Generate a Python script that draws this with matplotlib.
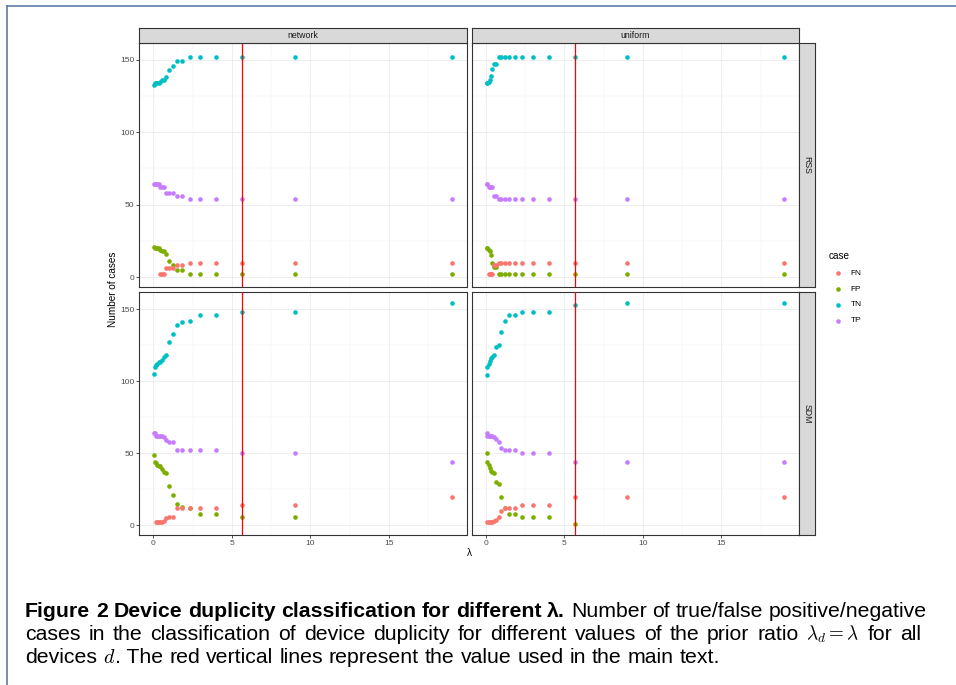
"""Device duplicity classification for different lambda (faceted point chart)."""
import numpy as np
import matplotlib
matplotlib.use("Agg")
import matplotlib.pyplot as plt
from matplotlib.lines import Line2D

plt.rcParams["font.family"] = ["Liberation Sans", "DejaVu Sans"]
plt.rcParams["mathtext.fontset"] = "cm"

nan = np.nan

# prior ratio values on the x axis
lam = [0.053, 0.111, 0.176, 0.25, 0.333, 0.429, 0.538, 0.667, 0.818, 1.0,
       1.222, 1.5, 1.857, 2.333, 3.0, 4.0, 5.667, 9.0, 19.0]
lam_used = 5.667

cases = ["FN", "FP", "TN", "TP"]
priors = ["network", "uniform"]
methods = ["RSS", "SDM"]

# network / RSS
net_rss_fn = [nan, nan, nan, nan, nan, 2, 2, 2, 6, 6, 6, 8, 8, 10, 10, 10, 10, 10, 10]
net_rss_fp = [21, 20, 20, 20, 20, 19, 18, 18, 16, 11, 8, 5, 5, 2, 2, 2, 2, 2, 2]
net_rss_tn = [133, 134, 134, 134, 134, 135, 136, 136, 138, 143, 146, 149, 149, 152, 152, 152, 152, 152, 152]
net_rss_tp = [64, 64, 64, 64, 64, 62, 62, 62, 58, 58, 58, 56, 56, 54, 54, 54, 54, 54, 54]

# uniform / RSS
uni_rss_fn = [nan, nan, 2, 2, 2, 2, 8, 8, 10, 10, 10, 10, 10, 10, 10, 10, 10, 10, 10]
uni_rss_fp = [20, 20, 19, 18, 15, 10, 7, 7, 2, 2, 2, 2, 2, 2, 2, 2, 2, 2, 2]
uni_rss_tn = [134, 134, 135, 136, 139, 144, 147, 147, 152, 152, 152, 152, 152, 152, 152, 152, 152, 152, 152]
uni_rss_tp = [64, 64, 62, 62, 62, 62, 56, 56, 54, 54, 54, 54, 54, 54, 54, 54, 54, 54, 54]

# network / SDM
net_sdm_fn = [nan, nan, 2, 2, 2, 2, 2, 3, 5, 6, 6, 12, 12, 12, 12, 12, 14, 14, 20]
net_sdm_fp = [49, 44, 43, 42, 41, 41, 39, 37, 36, 27, 21, 15, 13, 12, 8, 8, 6, 6, nan]
net_sdm_tn = [105, 110, 111, 112, 113, 113, 115, 117, 118, 127, 133, 139, 141, 142, 146, 146, 148, 148, 154]
net_sdm_tp = [64, 64, 62, 62, 62, 62, 62, 61, 59, 58, 58, 52, 52, 52, 52, 52, 50, 50, 44]

# uniform / SDM
uni_sdm_fn = [nan, 2, 2, 2, 2, 2, 3, 4, 6, 10, 12, 12, 12, 14, 14, 14, 20, 20, 20]
uni_sdm_fp = [50, 44, 42, 40, 38, 37, 36, 30, 29, 20, 12, 8, 8, 6, 6, 6, 1, nan, nan]
uni_sdm_tn = [104, 110, 112, 114, 116, 117, 118, 124, 125, 134, 142, 146, 146, 148, 148, 148, 153, 154, 154]
uni_sdm_tp = [64, 62, 62, 62, 62, 62, 61, 60, 58, 54, 52, 52, 52, 50, 50, 50, 44, 44, 44]

panel_data = {
    ("network", "RSS"): [net_rss_fn, net_rss_fp, net_rss_tn, net_rss_tp],
    ("uniform", "RSS"): [uni_rss_fn, uni_rss_fp, uni_rss_tn, uni_rss_tp],
    ("network", "SDM"): [net_sdm_fn, net_sdm_fp, net_sdm_tn, net_sdm_tp],
    ("uniform", "SDM"): [uni_sdm_fn, uni_sdm_fp, uni_sdm_tn, uni_sdm_tp],
}

colors = {"FN": "#F8766D", "FP": "#7CAE00", "TN": "#00BFC4", "TP": "#C77CFF"}
zorders = {"FN": 5, "FP": 4, "TN": 4, "TP": 4}

W, H = 956, 685
fig = plt.figure(figsize=(W / 100, H / 100), dpi=100)
fig.patch.set_facecolor("white")


def rect(x0, y0, x1, y1):
    # pixel box (top-left origin) -> figure fraction rect
    return [x0 / W, 1 - y1 / H, (x1 - x0) / W, (y1 - y0) / H]


col_x = [(139.3, 466.5), (471.7, 799.0)]
row_y = [(43.0, 286.7), (292.3, 535.0)]
BORDER = "#333333"
STRIP = "#d9d9d9"
TICK_FS = 6.0
STRIP_FS = 6.3
TITLE_FS = 7.2

for r, meth in enumerate(methods):
    for c, prior in enumerate(priors):
        (x0, x1), (y0, y1) = col_x[c], row_y[r]
        ax = fig.add_axes(rect(x0, y0, x1, y1))
        ax.set_xlim(-0.895, 19.95)
        ax.set_ylim(-6.7, 161.7)
        ax.set_xticks([0, 5, 10, 15])
        ax.set_xticks([2.5, 7.5, 12.5, 17.5], minor=True)
        ax.set_yticks([0, 50, 100, 150])
        ax.set_yticks([25, 75, 125], minor=True)
        ax.grid(True, which="major", color="#ebebeb", lw=0.6)
        ax.grid(True, which="minor", color="#f2f2f2", lw=0.35)
        ax.set_axisbelow(True)
        for sp in ax.spines.values():
            sp.set_color(BORDER)
            sp.set_linewidth(0.8)
        ax.tick_params(which="major", length=2, width=0.6, color=BORDER,
                       labelsize=TICK_FS, labelcolor="#4d4d4d", pad=1.5)
        ax.tick_params(which="minor", length=0)
        if r == 0:
            ax.tick_params(axis="x", which="major", length=0, labelbottom=False)
        if c == 1:
            ax.tick_params(axis="y", which="major", length=0, labelleft=False)

        for case, vals in zip(cases, panel_data[(prior, meth)]):
            ax.scatter(lam, vals, s=11, color=colors[case], linewidths=0,
                       zorder=zorders[case])
        ax.axvline(lam_used, color="red", lw=0.9, zorder=6)

        # top strips
        if r == 0:
            sa = fig.add_axes(rect(x0, 27.7, x1, 43.0))
            sa.set_facecolor(STRIP)
            sa.set_xticks([])
            sa.set_yticks([])
            for sp in sa.spines.values():
                sp.set_color(BORDER)
                sp.set_linewidth(0.8)
            sa.text(0.5, 0.5, prior, ha="center", va="center",
                    fontsize=STRIP_FS, color="#1a1a1a", transform=sa.transAxes)
        # right strips
        if c == 1:
            sa = fig.add_axes(rect(799.0, y0, 815.0, y1))
            sa.set_facecolor(STRIP)
            sa.set_xticks([])
            sa.set_yticks([])
            for sp in sa.spines.values():
                sp.set_color(BORDER)
                sp.set_linewidth(0.8)
            sa.text(0.5, 0.5, meth, ha="center", va="center",
                    fontsize=STRIP_FS, color="#1a1a1a", rotation=-90,
                    transform=sa.transAxes)

# axis titles
fig.text(113 / W, 1 - 289 / H, "Number of cases", rotation=90, ha="center",
         va="center", fontsize=TITLE_FS, color="black")
fig.text(469 / W, 1 - 553 / H, "λ", ha="center", va="center",
         fontsize=TITLE_FS, color="black")

# legend
fig.text(829 / W, 1 - 256 / H, "case", ha="left", va="center",
         fontsize=TITLE_FS)
for i, case in enumerate(cases):
    yy = 1 - (273.3 + 15.8 * i) / H
    fig.add_artist(Line2D([837.7 / W], [yy], marker="o", markersize=3.3,
                          markeredgewidth=0, color=colors[case],
                          transform=fig.transFigure))
    fig.text(850.7 / W, yy, case, ha="left", va="center", fontsize=TICK_FS)

# outer frame (top and left edges)
FRAME = "#5d7da3"
fig.add_artist(Line2D([7 / W, 1], [1 - 5.5 / H, 1 - 5.5 / H], color=FRAME,
                      lw=1.2, transform=fig.transFigure))
fig.add_artist(Line2D([7 / W, 7 / W], [0, 1 - 5.5 / H], color=FRAME,
                      lw=1.2, transform=fig.transFigure))

# caption: tokens (text, bold, math, space_before); lines 1-2 justified
renderer = fig.canvas.get_renderer()
B = {"fontweight": "bold"}
N = {}
cap_lines = [
    [(w, B, True) for w in "Figure 2  Device duplicity classification for different λ.".split()]
    + [(w, N, True) for w in "Number of true/false positive/negative".split()],
    [(w, N, True) for w in ("cases in the classification of device duplicity for "
                             "different values of the prior ratio").split()]
    + [(r"$\lambda_d = \lambda$", {"fontsize_scale": 0.9}, True),
       ("for", N, True), ("all", N, True)],
    [("devices", N, True), (r"$d$", {"fontsize_scale": 0.95}, True)]
    + [(". The", N, False)]
    + [(w, N, True) for w in "red vertical lines represent the value used in the main text.".split()],
]
cap_x0 = 25
cap_right = [927, 921, None]
baselines = [616.7, 640.0, 663.0]


def make_tokens(tokens, ybase, size):
    arts = []
    for s, kw, _ in tokens:
        kw = dict(kw)
        scale = kw.pop("fontsize_scale", 1.0)
        t = fig.text(0, 1 - ybase / H, s, ha="left", va="baseline",
                     fontsize=size * scale, color="black", **kw)
        arts.append((t, t.get_window_extent(renderer=renderer).width))
    return arts


def layout(tokens, arts, right, size):
    space = size * 100 / 72 * 0.28
    n_gaps = sum(1 for k, tok in enumerate(tokens) if k > 0 and tok[2])
    natural = sum(w for _, w in arts) + n_gaps * space
    gap = space
    if right is not None and n_gaps:
        gap = space + (right - cap_x0 - natural) / n_gaps
    x = cap_x0
    for k, ((t, w), tok) in enumerate(zip(arts, tokens)):
        if k > 0 and tok[2]:
            x += gap
        t.set_x(x / W)
        x += w
    return x - cap_x0


# pick the font size so the unjustified last line spans ~696 px
probe = make_tokens(cap_lines[2], baselines[2], 10)
w10 = layout(cap_lines[2], probe, None, 10)
for t, _ in probe:
    t.remove()
size = 10 * 696 / w10
for toks, yb, right in zip(cap_lines, baselines, cap_right):
    arts = make_tokens(toks, yb, size)
    layout(toks, arts, right, size)

fig.savefig("out.png", dpi=100)
